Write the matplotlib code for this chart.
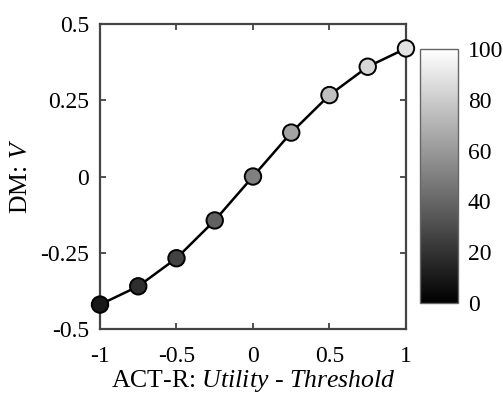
import matplotlib
matplotlib.use("Agg")
import matplotlib.pyplot as plt
import numpy as np

plt.rcParams['font.family'] = ['Liberation Serif', 'DejaVu Serif']
plt.rcParams['mathtext.fontset'] = 'custom'
plt.rcParams['mathtext.rm'] = 'Liberation Serif'
plt.rcParams['mathtext.it'] = 'Liberation Serif:italic'
plt.rcParams['axes.unicode_minus'] = False

# Data
x_vals = [-1.0, -0.75, -0.5, -0.25, 0.0, 0.25, 0.5, 0.75, 1.0]
v_vals = [-0.42, -0.36, -0.268, -0.144, 0.0, 0.144, 0.267, 0.36, 0.42]
shade_vals = [10, 18, 26, 38, 50, 64, 75, 84, 89]

x_ticks = [-1, -0.5, 0, 0.5, 1]
x_ticklabels = ['-1', '-0.5', '0', '0.5', '1']
y_ticks = [-0.5, -0.25, 0, 0.25, 0.5]
y_ticklabels = ['-0.5', '-0.25', '0', '0.25', '0.5']
cb_ticks = [0, 20, 40, 60, 80, 100]

fig = plt.figure(figsize=(5.03, 3.94), dpi=100)
ax = fig.add_axes([0.1988, 0.165, 0.6083, 0.774])

ax.plot(x_vals, v_vals, color='black', lw=1.8, zorder=2, clip_on=False)
sc = ax.scatter(x_vals, v_vals, c=shade_vals, cmap='gray', vmin=0, vmax=100,
                s=140, edgecolors='black', linewidths=1.4, zorder=3, clip_on=False)

ax.set_xlim(-1, 1)
ax.set_ylim(-0.5, 0.5)
ax.set_xticks(x_ticks)
ax.set_xticklabels(x_ticklabels)
ax.set_yticks(y_ticks)
ax.set_yticklabels(y_ticklabels)
ax.tick_params(direction='in', top=True, right=True, length=4, width=1.2,
               labelsize=17, colors='#333333', labelcolor='black')
ax.tick_params(axis='x', pad=12)
ax.tick_params(axis='y', pad=8)
for s in ax.spines.values():
    s.set_color('#444444')
    s.set_linewidth(1.6)

ax.set_xlabel(r'ACT-R: $Utility$ - $Threshold$', fontsize=18.5, labelpad=1)
ax.set_ylabel(r'DM: $V$', fontsize=18.5, labelpad=6)

cax = fig.add_axes([0.835, 0.231, 0.0755, 0.645])
cb = fig.colorbar(sc, cax=cax, ticks=cb_ticks)
cb.outline.set_edgecolor('#666666')
cb.outline.set_linewidth(1.0)
cax.tick_params(labelsize=17, length=0, pad=7)

fig.savefig('out.png', dpi=100)
